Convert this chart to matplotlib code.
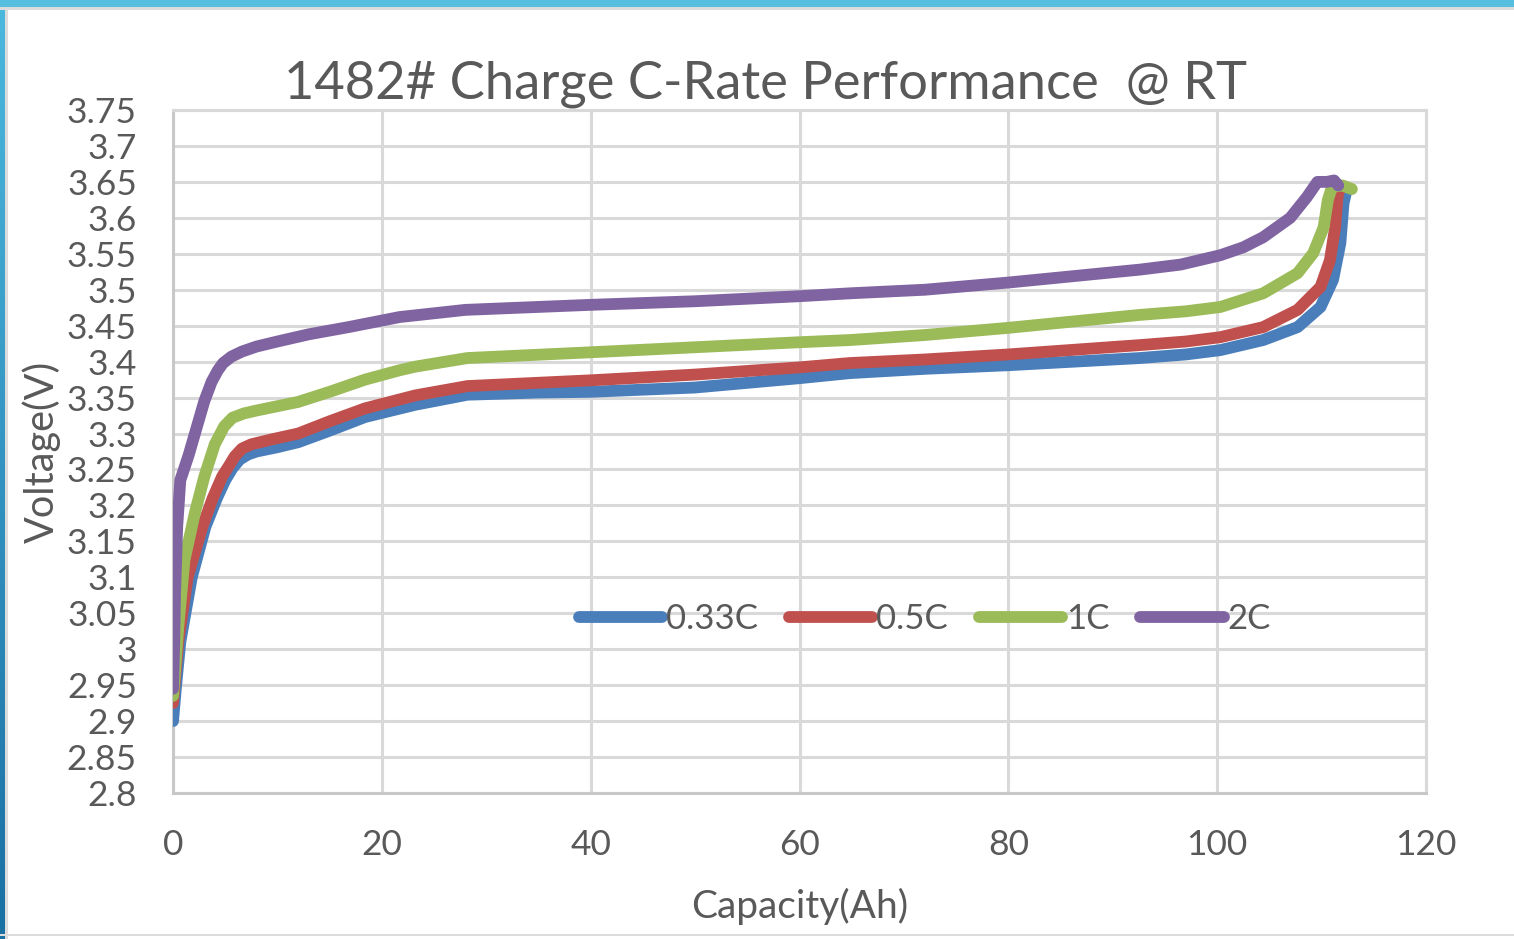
import matplotlib
matplotlib.use("Agg")
import matplotlib.pyplot as plt
import numpy as np
from matplotlib.patches import Rectangle

OUTPUT_PATH = "out.png"

TITLE = "1482# Charge C-Rate Performance  @ RT"
X_LABEL = "Capacity(Ah)"
Y_LABEL = "Voltage(V)"
SERIES_NAMES = ["0.33C", "0.5C", "1C", "2C"]
SERIES_COLORS = ["#4a7ebb", "#c0504d", "#9bbb59", "#8064a2"]

# capacity (Ah) / voltage (V)
cap_033c = [0, 0.3, 0.7, 1.8, 3.1, 4.2, 5.0, 5.7, 6.4, 7.2, 8.0, 10.0, 12.0, 15.0, 18.4, 23.2,
            28.2, 35.0, 40.0, 50.0, 60.0, 64.8, 72.0, 80.0, 92.6, 97.0, 100.3, 104.4, 107.7,
            109.9, 111.1, 111.8, 112.1, 112.4]
volt_033c = [2.90, 2.95, 3.01, 3.10, 3.17, 3.21, 3.235, 3.252, 3.264, 3.271, 3.275, 3.281, 3.288,
             3.304, 3.323, 3.34, 3.354, 3.357, 3.358, 3.364, 3.377, 3.384, 3.39, 3.395, 3.405,
             3.41, 3.416, 3.43, 3.448, 3.476, 3.514, 3.565, 3.62, 3.639]

cap_05c = [0, 0.2, 0.5, 1.4, 2.8, 3.8, 4.7, 5.4, 5.9, 6.6, 7.5, 9.5, 12.0, 15.0, 18.4, 23.2,
           28.2, 40.0, 50.0, 60.0, 64.8, 72.0, 80.0, 92.6, 97.0, 100.3, 104.4, 107.7, 109.9,
           110.8, 111.3, 111.5, 111.7, 112.1]
volt_05c = [2.925, 2.96, 3.01, 3.10, 3.17, 3.21, 3.24, 3.256, 3.268, 3.279, 3.285, 3.292, 3.30,
            3.317, 3.335, 3.353, 3.366, 3.374, 3.382, 3.392, 3.398, 3.403, 3.41, 3.423, 3.428,
            3.434, 3.448, 3.472, 3.504, 3.541, 3.587, 3.625, 3.645, 3.642]

cap_1c = [0, 0.2, 0.5, 1.1, 2.1, 3.0, 4.0, 4.9, 5.7, 6.8, 8.0, 12.0, 15.0, 18.4, 21.7, 23.2,
          28.2, 40.0, 50.0, 60.0, 64.8, 72.0, 80.0, 92.6, 97.0, 100.3, 104.4, 107.7, 109.2,
          110.2, 110.6, 111.0, 112.0, 112.9]
volt_1c = [2.935, 2.97, 3.03, 3.124, 3.19, 3.24, 3.285, 3.31, 3.322, 3.328, 3.332, 3.344, 3.358,
           3.375, 3.388, 3.393, 3.405, 3.413, 3.42, 3.427, 3.43, 3.437, 3.447, 3.465, 3.47,
           3.476, 3.495, 3.523, 3.551, 3.587, 3.625, 3.643, 3.645, 3.64]

cap_2c = [0, 0.1, 0.2, 0.4, 0.7, 1.5, 2.3, 3.0, 3.7, 4.3, 4.8, 5.6, 6.6, 8.0, 10.0, 13.0, 16.8,
          21.7, 28.0, 40.0, 50.0, 60.0, 64.8, 72.0, 80.0, 92.6, 96.5, 100.3, 102.5, 104.4,
          107.0, 108.6, 109.6, 110.5, 111.2, 111.6]
volt_2c = [2.945, 3.0, 3.078, 3.17, 3.235, 3.27, 3.31, 3.345, 3.372, 3.388, 3.398, 3.407, 3.414,
           3.421, 3.428, 3.438, 3.448, 3.462, 3.472, 3.479, 3.484, 3.491, 3.495, 3.50, 3.51,
           3.528, 3.535, 3.548, 3.559, 3.573, 3.60, 3.629, 3.65, 3.65, 3.652, 3.645]

X_TICKS = [0, 20, 40, 60, 80, 100, 120]
Y_TICKS = [2.8, 2.85, 2.9, 2.95, 3.0, 3.05, 3.1, 3.15, 3.2, 3.25, 3.3, 3.35, 3.4, 3.45, 3.5,
           3.55, 3.6, 3.65, 3.7, 3.75]
Y_TICK_LABELS = ["2.8", "2.85", "2.9", "2.95", "3", "3.05", "3.1", "3.15", "3.2", "3.25", "3.3",
                 "3.35", "3.4", "3.45", "3.5", "3.55", "3.6", "3.65", "3.7", "3.75"]

TEXT_COLOR = "#595959"
GRID_COLOR = "#d9d9d9"

plt.rcParams["font.family"] = ["Lato", "DejaVu Sans"]

fig = plt.figure(figsize=(15.14, 9.39), dpi=100)
fig.patch.set_facecolor("white")

# screenshot frame: blue bar on top, gradient bar on the left
W, H = 1514.0, 939.0
fig.patches.append(Rectangle((0, 1 - 10 / H), 1, 3 / H, transform=fig.transFigure,
                             facecolor="#dcdcdc", edgecolor="none", zorder=0))
fig.patches.append(Rectangle((0, 1 - 7 / H), 1, 7 / H, transform=fig.transFigure,
                             facecolor="#56bfe0", edgecolor="none", zorder=1))
fig.patches.append(Rectangle((5 / W, 0), 3 / W, 1, transform=fig.transFigure,
                             facecolor="#dcdcdc", edgecolor="none", zorder=0))
fig.patches.append(Rectangle((0, 3 / H), 1, 2 / H, transform=fig.transFigure,
                             facecolor="#dcdcdc", edgecolor="none", zorder=0))
bar_ax = fig.add_axes([0, 0, 5 / W, 1 - 7 / H])
grad = np.linspace(0, 1, 256).reshape(-1, 1)
bar_ax.imshow(grad, aspect="auto", cmap=matplotlib.colors.LinearSegmentedColormap.from_list(
    "frame", ["#1a6fa3", "#4bb8de"]), origin="lower")
bar_ax.axis("off")

ax = fig.add_axes([173 / W, 1 - 793 / H, (1426 - 173) / W, (793 - 110) / H])

series = [
    (cap_033c, volt_033c),
    (cap_05c, volt_05c),
    (cap_1c, volt_1c),
    (cap_2c, volt_2c),
]
for (xs, ys), name, color in zip(series, SERIES_NAMES, SERIES_COLORS):
    ax.plot(xs, ys, color=color, linewidth=8.5, solid_capstyle="round",
            solid_joinstyle="round", label=name, zorder=3)

ax.set_xlim(0, 120)
ax.set_ylim(2.8, 3.75)
ax.set_xticks(X_TICKS)
ax.set_yticks(Y_TICKS)
ax.set_yticklabels(Y_TICK_LABELS)
ax.tick_params(axis="both", length=0, labelsize=25.5, colors=TEXT_COLOR)
ax.tick_params(axis="y", pad=26)
ax.tick_params(axis="x", pad=26)
ax.grid(True, color=GRID_COLOR, linewidth=2.2, zorder=0)
ax.set_axisbelow(True)
for side in ["top", "right"]:
    ax.spines[side].set_color(GRID_COLOR)
    ax.spines[side].set_linewidth(2.2)
for side in ["left", "bottom"]:
    ax.spines[side].set_color("#c8c8c8")
    ax.spines[side].set_linewidth(2.2)

ax.set_xlabel(X_LABEL, fontsize=28, color=TEXT_COLOR, labelpad=19)
ax.set_ylabel(Y_LABEL, fontsize=28.5, color=TEXT_COLOR, labelpad=4)
fig.text(765 / W, 1 - 84 / H, TITLE, fontsize=37.8, color=TEXT_COLOR,
         ha="center", va="center")

ax.legend(loc="center", bbox_to_anchor=(0.6, 0.255), ncol=4, frameon=False,
          fontsize=25, labelcolor=TEXT_COLOR, handlelength=2.4, handletextpad=0.1,
          columnspacing=0.9)

fig.savefig(OUTPUT_PATH, dpi=100, facecolor="white")
plt.close(fig)
